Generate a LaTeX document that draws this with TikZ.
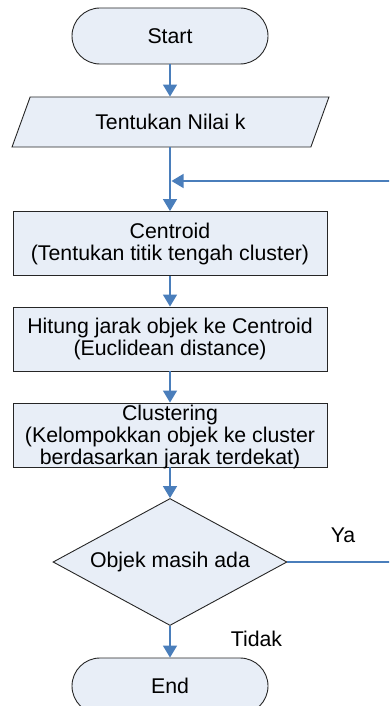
\documentclass[tikz,border=0pt]{standalone}
\usepackage{fontspec}
\setmainfont{Liberation Sans}
\usetikzlibrary{arrows.meta,shapes.geometric}
\definecolor{flowfill}{HTML}{E8EEF7}
\definecolor{flowline}{HTML}{4A7EBB}
\begin{document}
\begin{tikzpicture}[x=1pt,y=-1pt,
  every node/.style={font=\fontsize{21.3}{22}\selectfont, align=center, inner sep=0pt},
  shapebox/.style={draw=black!85, fill=flowfill, line width=0.9pt},
  term/.style={shapebox, rectangle, rounded corners=28pt, minimum width=196pt, minimum height=56pt},
  iobox/.style={shapebox, trapezium, trapezium left angle=58.2, trapezium right angle=121.8,
    trapezium stretches=true, minimum width=317pt, minimum height=50pt},
  procbox/.style={shapebox, rectangle, minimum width=314pt, minimum height=64pt},
  decision/.style={shapebox, diamond, shape aspect=1.84, minimum width=234pt, minimum height=127pt},
  flow/.style={draw=flowline, line width=1.4pt, -{Triangle[width=14pt,length=12pt]}},
  txtlabel/.style={inner sep=0pt}]
\clip (0,0) rectangle (389,706);
\node[term] (start) at (170,36) {Start};
\node[iobox] (param) at (170.5,122) {Tentukan Nilai k};
\node[procbox] (centroid) at (170,243.5) {Centroid\\(Tentukan titik tengah cluster)};
\node[procbox] (hitung) at (170,339) {Hitung jarak objek ke Centroid\\(Euclidean distance)};
\node[procbox] (clust) at (170,435) {};
\node[txtlabel] (clusttext) at (170,437) {Clustering\\(Kelompokkan objek ke cluster\\berdasarkan jarak terdekat)};
\node[decision] (dec) at (170,562) {Objek masih ada};
\node[term] (end) at (170,686) {End};
\node[txtlabel] (ya) at (343,535) {Ya};
\node[txtlabel] (tidak) at (256.5,639) {Tidak};
\coordinate (j) at (171.5,181);
\draw[flow] (start.south) -- (start.south |- param.north);
\draw[flow] (start.south |- param.south) -- (centroid.north);
\draw[flow] (centroid.south) -- (hitung.north);
\draw[flow] (hitung.south) -- (clust.north);
\draw[flow] (clust.south) -- (dec.north);
\draw[flow] (dec.south) -- (end.north);
\draw[flow] (dec.east) -- ++(110,0) |- (j);
\end{tikzpicture}
\end{document}
